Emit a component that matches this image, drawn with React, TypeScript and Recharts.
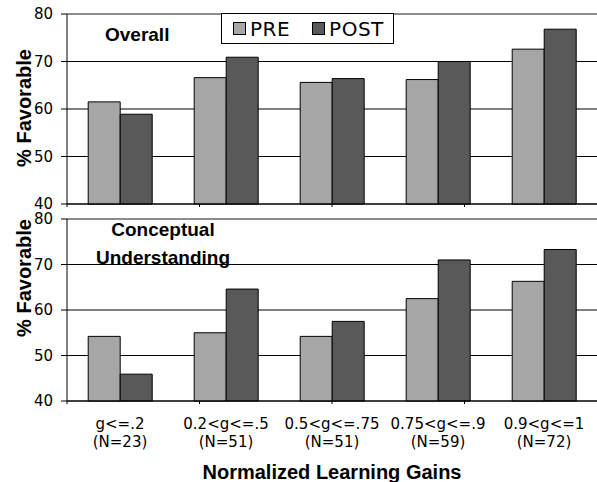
import React from 'react';
import {
  Bar,
  BarChart,
  CartesianGrid,
  ReferenceLine,
  XAxis,
  YAxis,
} from 'recharts';

const ranges = ['g<=.2', '0.2<g<=.5', '0.5<g<=.75', '0.75<g<=.9', '0.9<g<=1'];
const counts = ['(N=23)', '(N=51)', '(N=51)', '(N=59)', '(N=72)'];
const overallPre = [61.5, 66.6, 65.6, 66.2, 72.6];
const overallPost = [58.9, 70.9, 66.4, 70.0, 76.8];
const conceptPre = [54.2, 55.0, 54.2, 62.5, 66.3];
const conceptPost = [45.9, 64.6, 57.5, 71.0, 73.3];
const yTicks = [40, 50, 60, 70, 80];
const edgeTicks = [0, 1, 2, 3, 4, 5];

const overallData = ranges.map((r, i) => ({
  name: r,
  count: counts[i],
  pre: overallPre[i],
  post: overallPost[i],
}));
const conceptData = ranges.map((r, i) => ({
  name: r,
  count: counts[i],
  pre: conceptPre[i],
  post: conceptPost[i],
}));

const PRE_FILL = '#a6a6a6';
const POST_FILL = '#595959';
const tickFont = { fontFamily: 'DejaVu Sans', fontSize: 15, fill: '#000' };
const boldFont = 'Liberation Sans, Arial, sans-serif';

const NoTick = () => <g />;

const CatTick = (props: any) => {
  const { x, y, payload, index } = props;
  return (
    <g>
      <text x={x} y={y + 26} textAnchor="middle" {...tickFont}>
        {payload.value}
      </text>
      <text x={x} y={y + 44} textAnchor="middle" {...tickFont}>
        {counts[index]}
      </text>
    </g>
  );
};

function Panel({ data, height, bottom }: { data: any[]; height: number; bottom: boolean }) {
  return (
    <BarChart
      width={597}
      height={height}
      data={data}
      margin={{ top: 14, right: 0, left: 0, bottom: bottom ? 0 : 9 }}
      barCategoryGap="20%"
      barGap={0}
    >
      <CartesianGrid vertical={false} stroke="#000" yAxisId="y" />
      <XAxis
        xAxisId="a_edge"
        type="number"
        domain={[0, 5]}
        ticks={edgeTicks}
        allowDataOverflow
        tick={NoTick}
        tickSize={3}
        height={2}
        axisLine={{ stroke: '#000' }}
        tickLine={{ stroke: '#000' }}
      />
      <XAxis
        xAxisId="b_cat"
        dataKey="name"
        hide={!bottom}
        axisLine={false}
        tickLine={false}
        tickSize={0}
        tickMargin={0}
        interval={0}
        height={79}
        tick={CatTick}
      />
      <YAxis
        yAxisId="y"
        domain={[40, 80]}
        ticks={yTicks}
        width={67}
        tickSize={6}
        tickMargin={8}
        tick={tickFont}
        axisLine={{ stroke: '#000' }}
        tickLine={{ stroke: '#000' }}
      />
      <ReferenceLine yAxisId="y" xAxisId="b_cat" y={80} stroke="#8c8c8c" strokeWidth={2} />
      <Bar
        xAxisId="b_cat"
        yAxisId="y"
        dataKey="pre"
        fill={PRE_FILL}
        stroke="#000"
        strokeWidth={1}
        isAnimationActive={false}
      />
      <Bar
        xAxisId="b_cat"
        yAxisId="y"
        dataKey="post"
        fill={POST_FILL}
        stroke="#000"
        strokeWidth={1}
        isAnimationActive={false}
      />
    </BarChart>
  );
}

const titleStyle: React.CSSProperties = {
  position: 'absolute',
  fontFamily: boldFont,
  fontWeight: 'bold',
  fontSize: 19,
  color: '#000',
  whiteSpace: 'nowrap',
  lineHeight: 1,
};

function YLabel({ cy }: { cy: number }) {
  return (
    <div
      style={{
        ...titleStyle,
        fontSize: 20,
        left: 24,
        top: cy,
        transform: 'translate(-50%, -50%) rotate(-90deg)',
      }}
    >
      % Favorable
    </div>
  );
}

function LegendBox() {
  const sq = (fill: string): React.CSSProperties => ({
    display: 'inline-block',
    width: 11,
    height: 11,
    background: fill,
    border: '1px solid #000',
    marginRight: 4,
  });
  return (
    <div
      style={{
        position: 'absolute',
        left: 221,
        top: 13,
        width: 173,
        height: 31,
        border: '1px solid #000',
        background: '#fff',
        fontFamily: 'DejaVu Sans',
        fontSize: 20,
        letterSpacing: 0.5,
        display: 'flex',
        alignItems: 'center',
        paddingLeft: 11,
        boxSizing: 'border-box',
      }}
    >
      <span style={{ display: 'flex', alignItems: 'center', marginRight: 22 }}>
        <span style={sq(PRE_FILL)} />
        PRE
      </span>
      <span style={{ display: 'flex', alignItems: 'center' }}>
        <span style={sq(POST_FILL)} />
        POST
      </span>
    </div>
  );
}

export default function App() {
  return (
    <div style={{ position: 'absolute', left: 0, top: 0, width: 597, height: 482, background: '#fff' }}>
      <div style={{ position: 'absolute', left: 0, top: 0 }}>
        <Panel data={overallData} height={215} bottom={false} />
      </div>
      <div style={{ position: 'absolute', left: 0, top: 205 }}>
        <Panel data={conceptData} height={277} bottom />
      </div>
      <LegendBox />
      <div style={{ ...titleStyle, left: 105, top: 25 }}>Overall</div>
      <div style={{ ...titleStyle, left: 163, top: 216, transform: 'translateX(-50%)', textAlign: 'center', lineHeight: '28px' }}>
        Conceptual
        <br />
        Understanding
      </div>
      <YLabel cy={108} />
      <YLabel cy={278} />
      <div style={{ ...titleStyle, fontSize: 20, left: 332, top: 462, transform: 'translateX(-50%)' }}>
        Normalized Learning Gains
      </div>
    </div>
  );
}
